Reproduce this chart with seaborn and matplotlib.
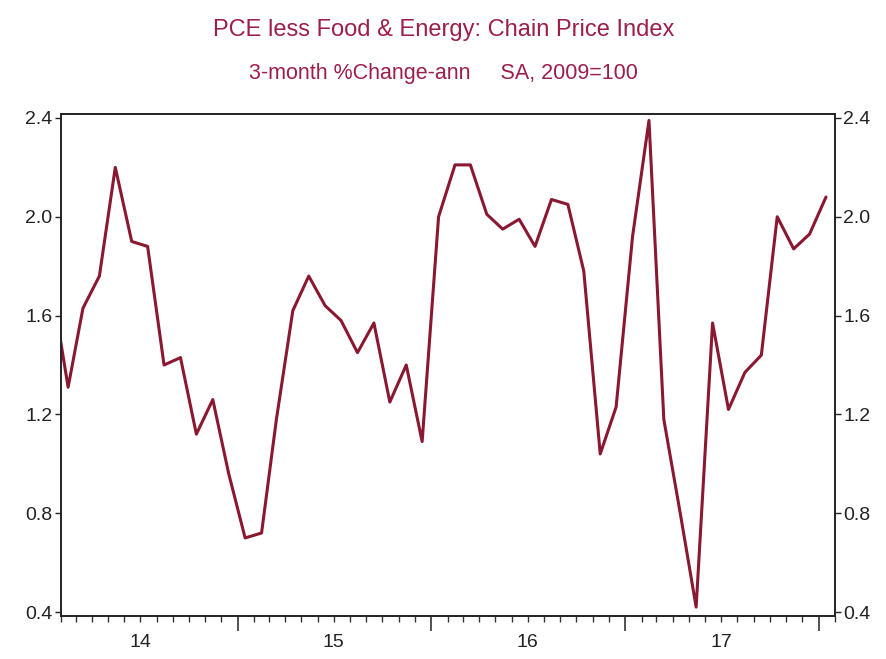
import seaborn as sns
import matplotlib.pyplot as plt
import matplotlib.dates as mdates
import matplotlib.transforms as mtransforms
import pandas as pd

# datos: mensual, ene 2014 - ene 2018
months = pd.period_range("2014-01", "2018-01", freq="M")
pce_core = [1.72, 1.31, 1.63, 1.76, 2.20, 1.90, 1.88, 1.40, 1.43, 1.12, 1.26, 0.96,
            0.70, 0.72, 1.18, 1.62, 1.76, 1.64, 1.58, 1.45, 1.57, 1.25, 1.40, 1.09,
            2.00, 2.21, 2.21, 2.01, 1.95, 1.99, 1.88, 2.07, 2.05, 1.78, 1.04, 1.23,
            1.92, 2.39, 1.18, 0.80, 0.42, 1.57, 1.22, 1.37, 1.44, 2.00, 1.87, 1.93,
            2.08]
y_ticks = [0.4, 0.8, 1.2, 1.6, 2.0, 2.4]
year_labels = ["14", "15", "16", "17"]

title = "PCE less Food & Energy: Chain Price Index"
subtitle = "3-month %Change-ann     SA, 2009=100"

df = pd.DataFrame({
    "fecha": months.to_timestamp() + pd.Timedelta(days=14),
    "valor": pce_core,
})

sns.set_style("white")
plt.rcParams['font.family'] = ['Liberation Sans', 'DejaVu Sans']

fig = plt.figure(figsize=(8.87, 6.59), dpi=100)
ax = fig.add_axes([60.7 / 887, 1 - 616 / 659, (835 - 60.7) / 887, (616 - 114) / 659])

sns.lineplot(data=df, x="fecha", y="valor", ax=ax, color="#8a1830", linewidth=2.2)

ax.set_xlim(pd.Timestamp("2014-02-01"), pd.Timestamp("2018-02-01"))
ax.set_ylim(0.384, 2.416)
ax.set_xlabel("")
ax.set_ylabel("")

# eje y a ambos lados
ax.set_yticks(y_ticks)
ax.set_yticklabels([f"{v:.1f}" for v in y_ticks])
ax.tick_params(axis="y", which="both", left=True, right=True, labelleft=True,
               labelright=True, direction="out", length=4, width=1,
               labelsize=14, pad=2, colors="#222222")

# eje x: marcas mensuales y anuales
year_starts = [pd.Timestamp(f"{y}-01-01") for y in range(2015, 2019)]
ax.set_xticks(year_starts)
ax.set_xticklabels([""] * len(year_starts))
ax.xaxis.set_minor_locator(mdates.MonthLocator())
ax.tick_params(axis="x", which="major", direction="out", length=11, width=1.2,
               bottom=True, colors="#333333")
ax.tick_params(axis="x", which="minor", direction="out", length=4, width=1,
               bottom=True, colors="#333333")

trans = mtransforms.blended_transform_factory(ax.transData, ax.transAxes)
for i, lab in enumerate(year_labels):
    mid = pd.Timestamp(f"{2014 + i}-07-01")
    ax.text(mdates.date2num(mid), -0.035, lab, transform=trans, ha="center",
            va="top", fontsize=14, color="#222222")

for side in ["left", "right", "top", "bottom"]:
    ax.spines[side].set_visible(True)
    ax.spines[side].set_color("#222222")
    ax.spines[side].set_linewidth(1.4)

fig.text(0.5, 1 - 30 / 659, title, ha="center", va="center", fontsize=17,
         color="#9c1f47")
fig.text(0.5, 1 - 73 / 659, subtitle, ha="center", va="center", fontsize=15.5,
         color="#9c1f47")

plt.savefig("out.png", dpi=100)
